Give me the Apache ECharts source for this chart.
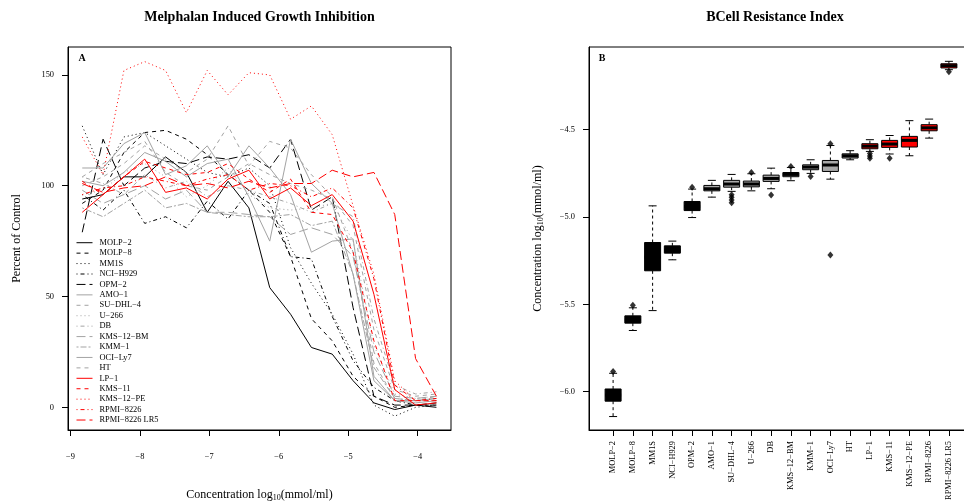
<!DOCTYPE html>
<html><head><meta charset="utf-8">
<script src="https://cdn.jsdelivr.net/npm/echarts@6/dist/echarts.min.js"></script>
<style>html,body{margin:0;padding:0;background:#fff}#c{width:964px;height:504px}</style>
</head><body><div id="c"></div>
<script>
// ---------- data ----------
const cellLines = ['MOLP\u22122','MOLP\u22128','MM1S','NCI\u2212H929','OPM\u22122','AMO\u22121','SU\u2212DHL\u22124','U\u2212266','DB','KMS\u221212\u2212BM','KMM\u22121','OCI\u2212Ly7','HT','LP\u22121','KMS\u221211','KMS\u221212\u2212PE','RPMI\u22128226','RPMI\u22128226 LR5'];
const logConc = [-8.83,-8.53,-8.23,-7.93,-7.63,-7.33,-7.03,-6.73,-6.43,-6.13,-5.83,-5.53,-5.23,-4.93,-4.63,-4.33,-4.03,-3.73];

const pctMOLP2    = [94, 96,104,104,113,106, 88,102, 90, 54, 42, 27, 24, 12,  2, -1,  1,  0];
const pctMOLP8    = [92, 98,115,124,125,121,114,105, 98, 88, 68, 40, 30, 14,  5,  0,  1,  1];
const pctMM1S     = [127,105,122,124,118,112,106,104,108,100, 72, 56, 42, 24,  1, -4,  0,  1];
const pctNCIH929  = [96, 89, 98, 83, 86, 81, 93, 85, 98, 92, 68, 67, 41, 21,  9,  3,  1,  1];
const pctOPM2     = [79,121,100,108,111,110,113,112,114,108,121, 89, 95, 45,  5,  1,  1,  2];
const pctAMO1     = [108,108,119,124,105,109,118,104,118,108, 96, 70, 75, 76, 14,  3,  2,  3];
const pctSUDHL4   = [100,104,110,118,112,106,112,127,109,120,117,105, 95, 70, 20,  4,  3,  5];
const pctU266     = [96, 98,106,110,104, 95,100,108, 96, 90, 89, 90, 92, 75, 28,  6,  4,  5];
const pctDB       = [104,101, 96,105, 99,102, 95,100, 98, 95, 92, 88, 92, 86, 40, 10,  6,  7];
const pctKMS12BM  = [98, 92, 96,100, 94, 98, 88, 88, 87, 86, 78, 81, 78, 68, 25,  5,  4,  5];
const pctKMM1     = [90, 86, 92, 98, 90, 92, 88, 87, 86, 86, 87, 82, 84, 60, 18,  4,  3,  4];
const pctOCILy7   = [102,100,106,115,111,104,110,112, 95, 75,121,101, 92, 60, 12,  3,  3,  4];
const pctHT       = [104,110,115,120,106,100, 98,104,110,105,101, 98, 94, 82, 35,  8,  5,  6];
const pctLP1      = [88, 96,104,112, 97, 99, 94,103,107, 94, 99, 91, 96, 84, 51,  8,  1,  2];
const pctKMS11    = [102, 96,104,111,108,105,106,110,103, 97,103, 88, 87, 70, 30,  3,  3,  3];
const pctKMS12PE  = [122,105,152,156,152,133,152,141,151,150,130,136,123, 91, 60, 12,  3,  3];
const pctRPMI8226 = [96, 99,100,104,102,100,103,105, 98,101,100, 95, 99, 90, 58, 10,  3,  4];
const pctRPMILR5  = [101, 97, 99,100,104,100,101, 99,102, 99,101,101,107,104,106, 87, 22,  5];
const growthValues = [pctMOLP2,pctMOLP8,pctMM1S,pctNCIH929,pctOPM2,pctAMO1,pctSUDHL4,pctU266,pctDB,pctKMS12BM,pctKMM1,pctOCILy7,pctHT,pctLP1,pctKMS11,pctKMS12PE,pctRPMI8226,pctRPMILR5];

// box plot statistics (log10 mmol/ml), one entry per cell line
const boxLow    = [-6.143,-5.650,-5.536,-5.245,-5.003,-4.886,-4.853,-4.850,-4.838,-4.792,-4.750,-4.783,-4.672,-4.624,-4.639,-4.649,-4.548,-4.156];
const boxQ1     = [-6.055,-5.608,-5.308,-5.207,-4.963,-4.850,-4.829,-4.827,-4.796,-4.769,-4.729,-4.739,-4.662,-4.609,-4.601,-4.599,-4.506,-4.146];
const boxMedian = [-6.020,-5.590,-5.230,-5.190,-4.940,-4.838,-4.811,-4.811,-4.779,-4.756,-4.714,-4.702,-4.649,-4.594,-4.582,-4.561,-4.489,-4.133];
const boxQ3     = [-5.985,-5.566,-5.146,-5.165,-4.911,-4.819,-4.790,-4.794,-4.760,-4.745,-4.701,-4.676,-4.638,-4.580,-4.561,-4.538,-4.471,-4.122];
const boxHigh   = [-5.895,-5.520,-4.936,-5.138,-4.840,-4.790,-4.756,-4.752,-4.720,-4.716,-4.672,-4.590,-4.620,-4.557,-4.533,-4.448,-4.439,-4.108];
const outlierCat = [1, 2, 5, 7, 7, 7, 7, 8, 9, 10, 11, 12, 12, 14, 14, 14, 15, 18];
const outlierVal = [-5.885,-5.505,-4.830,-4.872,-4.887,-4.902,-4.918,-4.745,-4.874,-4.710,-4.768,-4.580,-5.218,-4.636,-4.650,-4.664,-4.664,-4.168];

const xTicksA = [-9,-8,-7,-6,-5,-4];
const yTicksA = [0,50,100,150];
const yTicksB = [-6.0,-5.5,-5.0,-4.5];
const catPositions = [1,2,3,4,5,6,7,8,9,10,11,12,13,14,15,16,17,18];

// ---------- styles ----------
const GRAY = '#a3a3a3', RED = '#ff0000', BLACK = '#000000';
const lineColors = [BLACK,BLACK,BLACK,BLACK,BLACK,GRAY,GRAY,GRAY,GRAY,GRAY,GRAY,GRAY,GRAY,RED,RED,RED,RED,RED];
const DASH = {solid:'solid', dashed:[4,4], dotted:[1,3], dotdash:[1,3,4,3], longdash:[9,4], twodash:[2,2,6,2]};
const lineDashes = ['solid','dashed','dotted','dotdash','longdash','solid','dashed','dotted','dotdash','longdash','twodash','solid','dashed','solid','dashed','dotted','dotdash','longdash'];
const boxFills = [BLACK,BLACK,BLACK,BLACK,BLACK,'#a8a8a8','#a8a8a8','#a8a8a8','#a8a8a8','#a8a8a8','#a8a8a8','#a8a8a8','#a8a8a8',RED,RED,RED,RED,RED];
const FONT = '"Liberation Serif", "Times New Roman", serif';
const minus = s => String(s).replace('-', '\u2212');

// ---------- chart ----------
const chart = echarts.init(document.getElementById('c'), null, {renderer:'canvas'});

const lineSeries = growthValues.map((vals, s) => ({
  name: cellLines[s], type: 'line', xAxisIndex: 0, yAxisIndex: 0,
  data: logConc.map((x, i) => [x, vals[i]]),
  symbol: 'none', silent: true,
  lineStyle: {color: lineColors[s], width: 1, type: DASH[lineDashes[s]]},
  itemStyle: {color: lineColors[s]},
  z: 2 + s
}));

const boxData = catPositions.map((p, i) => [p, boxLow[i], boxQ1[i], boxMedian[i], boxQ3[i], boxHigh[i]]);

const boxSeries = {
  type: 'custom', xAxisIndex: 1, yAxisIndex: 1, silent: true,
  data: boxData,
  encode: {x: 0, y: [1,2,3,4,5]},
  renderItem: function (params, api) {
    const p = api.value(0);
    const lo = api.coord([p, api.value(1)]);
    const q1 = api.coord([p, api.value(2)]);
    const md = api.coord([p, api.value(3)]);
    const q3 = api.coord([p, api.value(4)]);
    const hi = api.coord([p, api.value(5)]);
    const x = lo[0], hw = 8, hs = 4;
    const fill = boxFills[params.dataIndex];
    return {type: 'group', children: [
      {type:'line', shape:{x1:x, y1:q3[1], x2:x, y2:hi[1]}, style:{stroke:BLACK, lineWidth:1, lineDash:[3,3]}},
      {type:'line', shape:{x1:x, y1:q1[1], x2:x, y2:lo[1]}, style:{stroke:BLACK, lineWidth:1, lineDash:[3,3]}},
      {type:'line', shape:{x1:x-hs, y1:hi[1], x2:x+hs, y2:hi[1]}, style:{stroke:BLACK, lineWidth:1}},
      {type:'line', shape:{x1:x-hs, y1:lo[1], x2:x+hs, y2:lo[1]}, style:{stroke:BLACK, lineWidth:1}},
      {type:'rect', shape:{x:x-hw, y:q3[1], width:2*hw, height:q1[1]-q3[1]}, style:{fill:fill, stroke:BLACK, lineWidth:1}},
      {type:'line', shape:{x1:x-hw, y1:md[1], x2:x+hw, y2:md[1]}, style:{stroke:BLACK, lineWidth:3}}
    ]};
  },
  z: 5
};

const outlierSeries = {
  type: 'scatter', xAxisIndex: 1, yAxisIndex: 1, silent: true,
  data: outlierCat.map((c, i) => [c, outlierVal[i]]),
  symbol: 'diamond', symbolSize: [6, 7],
  itemStyle: {color: BLACK}, z: 6
};

const axisLabelBase = {fontFamily: FONT, fontSize: 8.4, color: BLACK};
const nameStyle = {
  fontFamily: FONT, fontSize: 12, color: BLACK, lineHeight: 14,
  rich: {sub: {fontFamily: FONT, fontSize: 8, color: BLACK, lineHeight: 7, verticalAlign: 'bottom'}}
};

chart.setOption({
  animation: false,
  backgroundColor: '#ffffff',
  grid: [
    {left: 68, top: 47, width: 383, height: 383, show: true, borderColor: BLACK, borderWidth: 1, backgroundColor: 'transparent', containLabel: false, outerBoundsMode: 'none'},
    {left: 589, top: 47, width: 384, height: 383, show: true, borderColor: BLACK, borderWidth: 1, backgroundColor: 'transparent', containLabel: false, outerBoundsMode: 'none'}
  ],
  xAxis: [
    {gridIndex: 0, type: 'value', min: -9.035, max: -3.52,
     axisLine: {show: true, onZero: false, lineStyle: {color: BLACK, width: 1}},
     axisTick: {show: true, length: 6, customValues: xTicksA, lineStyle: {color: BLACK}},
     axisLabel: Object.assign({customValues: xTicksA, margin: 23, formatter: v => minus(v)}, axisLabelBase),
     splitLine: {show: false},
     name: 'Concentration log{sub|10}(mmol/ml)', nameLocation: 'middle', nameGap: 58, nameTextStyle: nameStyle},
    {gridIndex: 1, type: 'value', min: -0.22, max: 19.22,
     axisLine: {show: true, onZero: false, lineStyle: {color: BLACK, width: 1}},
     axisTick: {show: true, length: 6, customValues: catPositions, lineStyle: {color: BLACK}},
     axisLabel: Object.assign({customValues: catPositions, margin: 11, rotate: 90, formatter: v => cellLines[Math.round(v) - 1]}, axisLabelBase),
     splitLine: {show: false}}
  ],
  yAxis: [
    {gridIndex: 0, type: 'value', min: -10.24, max: 162.6,
     axisLine: {show: true, onZero: false, lineStyle: {color: BLACK, width: 1}},
     axisTick: {show: true, length: 6, customValues: yTicksA, lineStyle: {color: BLACK}},
     axisLabel: Object.assign({customValues: yTicksA, margin: 14}, axisLabelBase),
     splitLine: {show: false},
     name: 'Percent of Control', nameLocation: 'middle', nameGap: 45, nameTextStyle: {fontFamily: FONT, fontSize: 12, color: BLACK}},
    {gridIndex: 1, type: 'value', min: -6.22, max: -4.026,
     axisLine: {show: true, onZero: false, lineStyle: {color: BLACK, width: 1}},
     axisTick: {show: true, length: 6, customValues: yTicksB, lineStyle: {color: BLACK}},
     axisLabel: Object.assign({customValues: yTicksB, margin: 14, formatter: v => minus(Number(v).toFixed(1))}, axisLabelBase),
     splitLine: {show: false},
     name: 'Concentration log{sub|10}(mmol/ml)', nameLocation: 'middle', nameGap: 44, nameTextStyle: nameStyle}
  ],
  legend: {
    orient: 'vertical', left: 76, top: 237.5, padding: 0,
    itemWidth: 16, itemHeight: 6, itemGap: 0, selectedMode: false,
    itemStyle: {opacity: 0},
    lineStyle: {width: 1},
    textStyle: {fontFamily: FONT, fontSize: 8.4, lineHeight: 10.43, color: BLACK, padding: [0, 0, 0, 2]},
    data: cellLines
  },
  graphic: [
    {type: 'text', x: 259.5, y: 17, style: {text: 'Melphalan Induced Growth Inhibition', fontFamily: FONT, fontSize: 14, fontWeight: 'bold', fill: BLACK, align: 'center', verticalAlign: 'middle'}},
    {type: 'text', x: 775, y: 17, style: {text: 'BCell Resistance Index', fontFamily: FONT, fontSize: 14, fontWeight: 'bold', fill: BLACK, align: 'center', verticalAlign: 'middle'}},
    {type: 'text', x: 82, y: 58, style: {text: 'A', fontFamily: FONT, fontSize: 10, fontWeight: 'bold', fill: BLACK, align: 'center', verticalAlign: 'middle'}},
    {type: 'text', x: 602, y: 58, style: {text: 'B', fontFamily: FONT, fontSize: 10, fontWeight: 'bold', fill: BLACK, align: 'center', verticalAlign: 'middle'}}
  ],
  series: lineSeries.concat([boxSeries, outlierSeries])
});
</script></body></html>
